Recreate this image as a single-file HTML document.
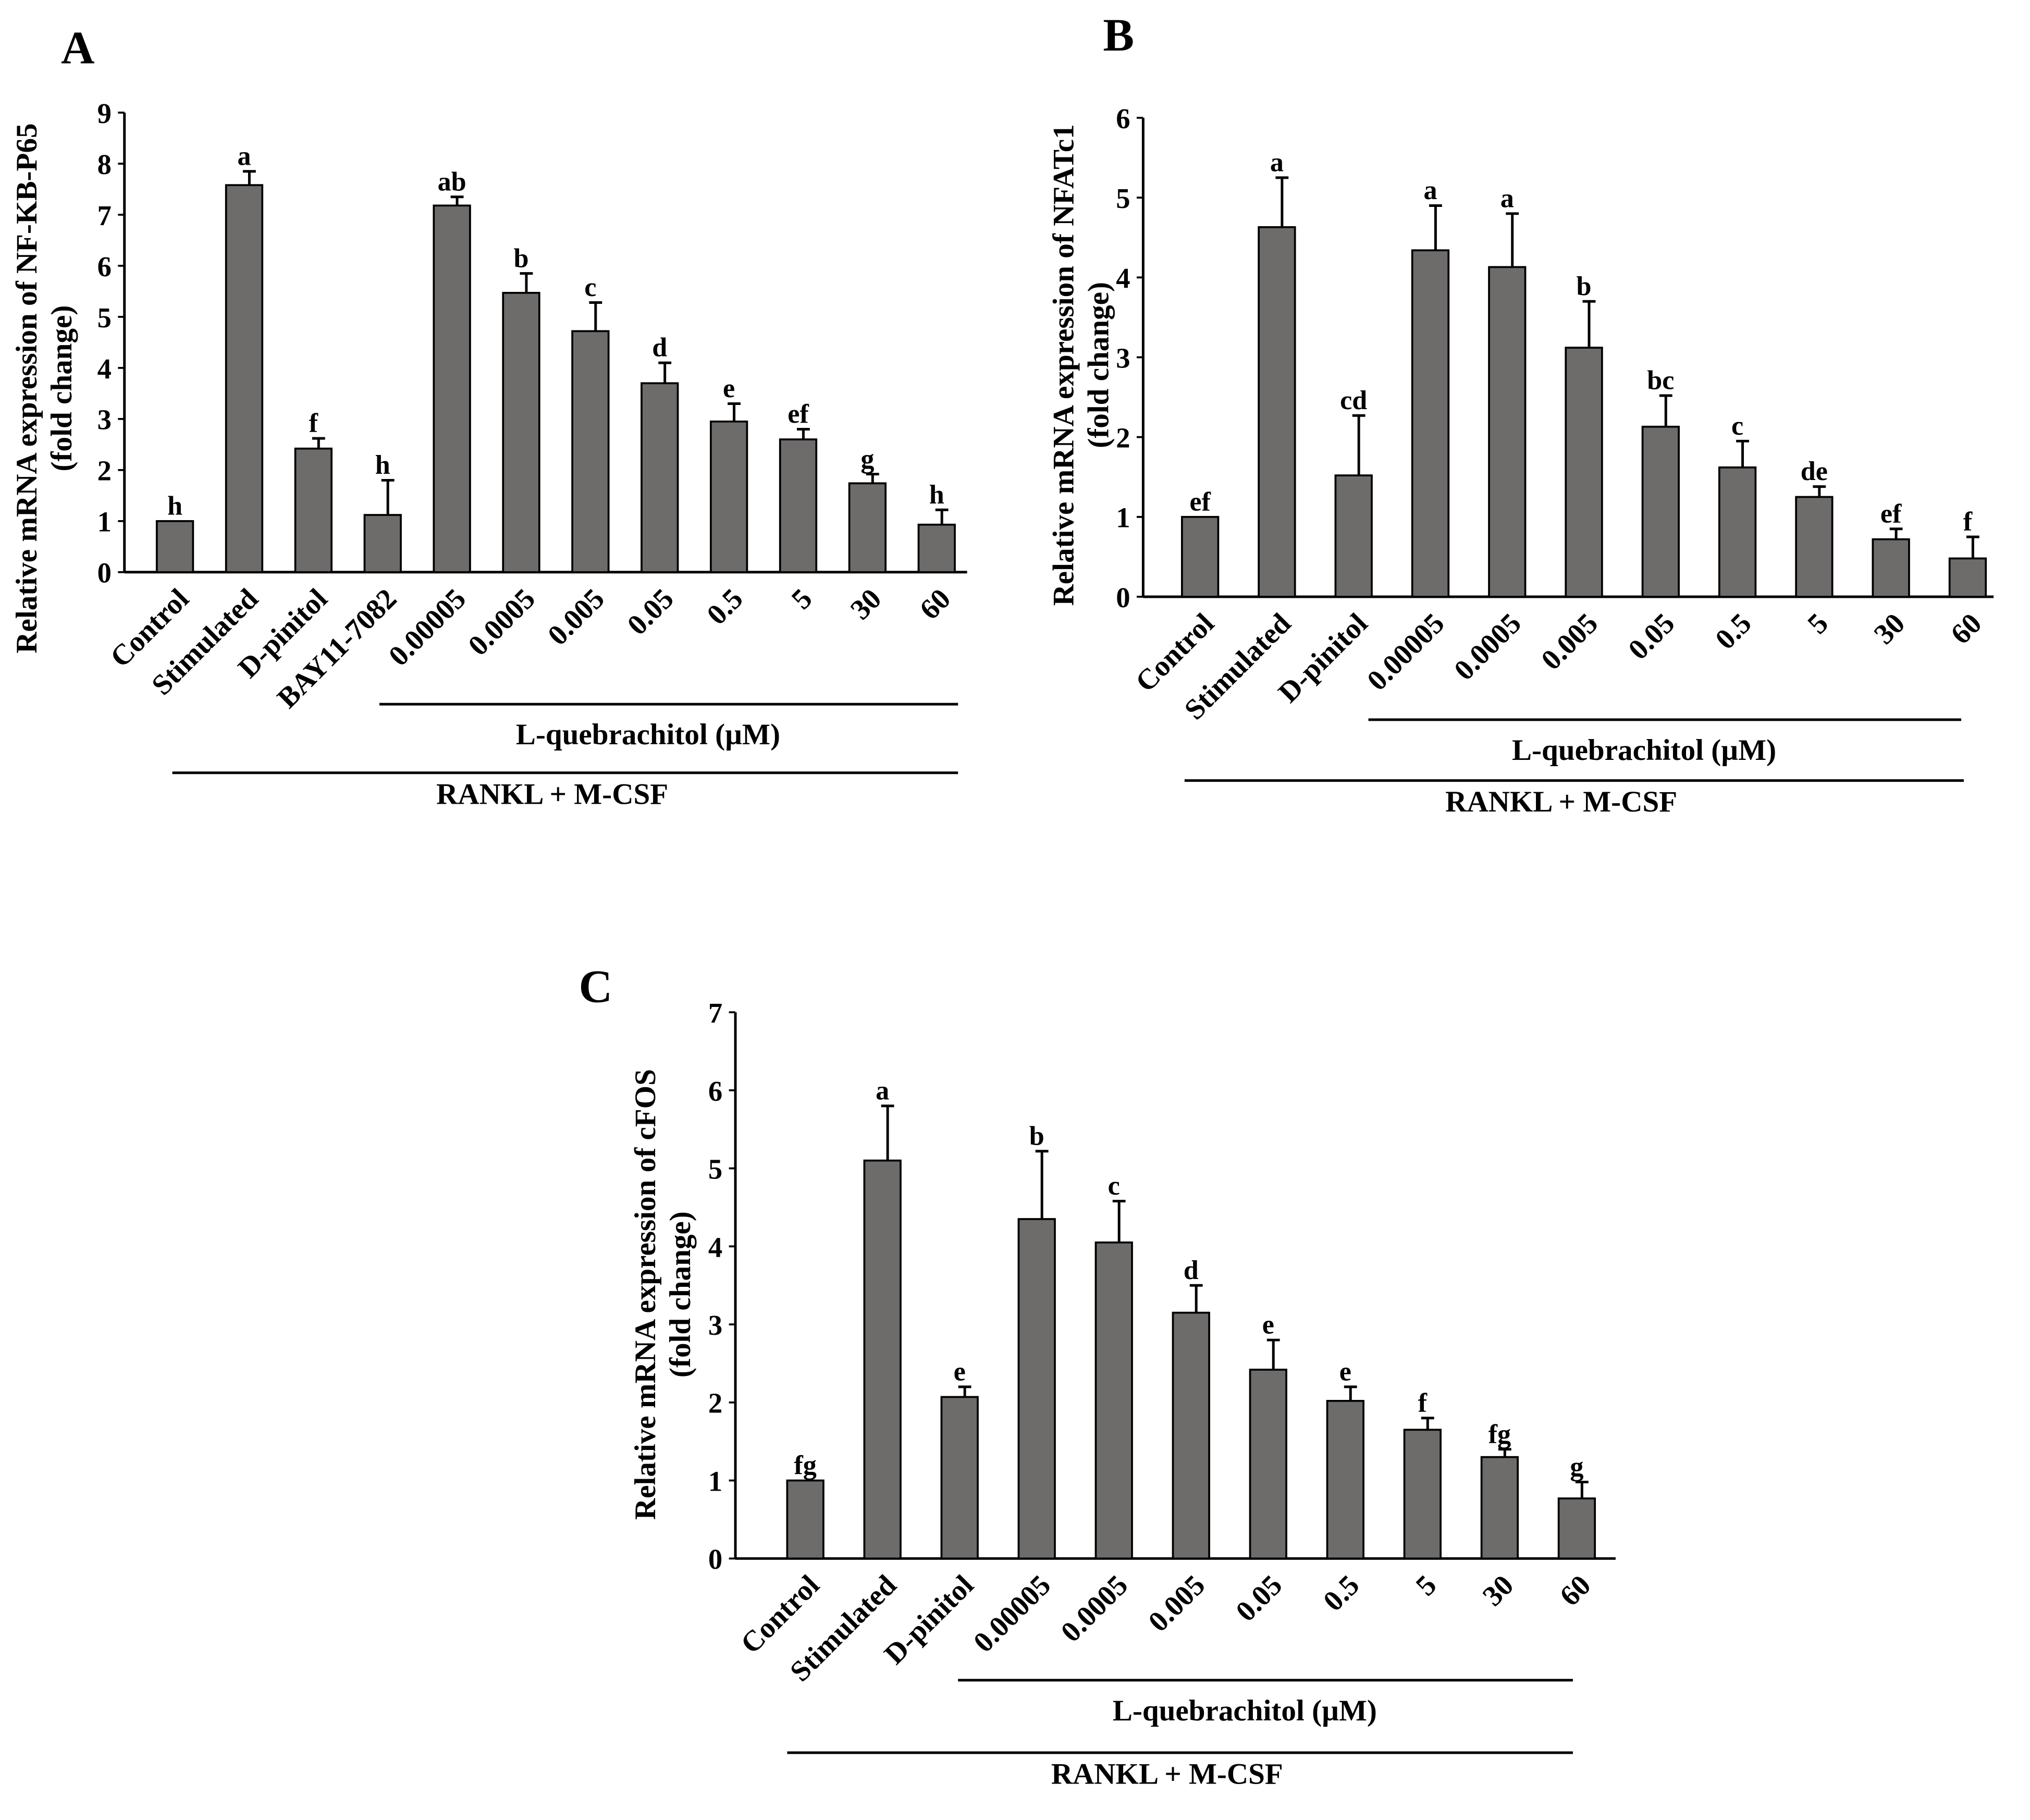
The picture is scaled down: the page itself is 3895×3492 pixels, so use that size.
<!DOCTYPE html>
<html><head><meta charset="utf-8"><style>
html,body{margin:0;padding:0;background:#fff;}
svg{display:block;}
text{font-family:"Liberation Serif",serif;font-weight:bold;fill:#000;}
</style></head><body>
<svg id="fig" xmlns="http://www.w3.org/2000/svg" width="3895" height="3492" viewBox="0 0 1568 1406">
<rect width="1568" height="1406" fill="#fff"/>
</svg>
<script>
const catsA=["Control","Stimulated","D-pinitol","BAY11-7082","0.00005","0.0005","0.005","0.05","0.5","5","30","60"];
const valsA=[1.0,7.58,2.42,1.12,7.18,5.47,4.72,3.70,2.95,2.60,1.74,0.93];
const errA=[0,0.27,0.2,0.68,0.17,0.38,0.56,0.4,0.35,0.2,0.18,0.29];
const sigA=["h","a","f","h","ab","b","c","d","e","ef","g","h"];
const ticksA=[0,1,2,3,4,5,6,7,8,9];

const catsB=["Control","Stimulated","D-pinitol","0.00005","0.0005","0.005","0.05","0.5","5","30","60"];
const valsB=[1.0,4.63,1.52,4.34,4.13,3.12,2.13,1.62,1.25,0.72,0.48];
const errB=[0,0.62,0.75,0.56,0.67,0.58,0.39,0.33,0.13,0.13,0.27];
const sigB=["ef","a","cd","a","a","b","bc","c","de","ef","f"];
const ticksB=[0,1,2,3,4,5,6];

const catsC=["Control","Stimulated","D-pinitol","0.00005","0.0005","0.005","0.05","0.5","5","30","60"];
const valsC=[1.0,5.1,2.07,4.35,4.05,3.15,2.42,2.02,1.65,1.3,0.77];
const errC=[0,0.7,0.13,0.87,0.53,0.35,0.38,0.18,0.15,0.1,0.21];
const sigC=["fg","a","e","b","c","d","e","e","f","fg","g"];
const ticksC=[0,1,2,3,4,5,6,7];

const NS="http://www.w3.org/2000/svg";
const svg=document.getElementById('fig');
function mk(tag,attrs,parent,txt){const e=document.createElementNS(NS,tag);for(const k in attrs)e.setAttribute(k,attrs[k]);if(txt!==undefined)e.textContent=txt;(parent||svg).appendChild(e);return e;}

function panel(cfg,cats,vals,errs,sigs,ticks){
  const g=mk('g',{});
  
  
  const ax=cfg.ax,y0=cfg.y0,yt=cfg.yTop,max=ticks[ticks.length-1];
  const y=v=>y0-(v/max)*(y0-yt);
  const xc=i=>cfg.x0+i*cfg.step;
  const bw=28;
  const ya=mk('line',{x1:ax,y1:yt,x2:ax,y2:y0,stroke:'#000','stroke-width':2},g);
  
  
  const xa=mk('line',{x1:ax,y1:y0,x2:cfg.axEnd,y2:y0,stroke:'#000','stroke-width':2},g);
  
  
  ticks.forEach(t=>{
    mk('line',{x1:ax-5,y1:y(t),x2:ax,y2:y(t),stroke:'#000','stroke-width':1.5},g);
    const tl=mk('text',{x:ax-10,y:y(t)+8,'text-anchor':'end','font-size':22},g,String(t));
    
    
  });
  cats.forEach((c,i)=>{
    const cx=xc(i),v=vals[i],e=errs[i];
    const b=mk('rect',{x:cx-bw/2,y:y(v),width:bw,height:y0-y(v),fill:'#6e6b6b',stroke:'#000','stroke-width':1.5},g);
    
    
    if(e>0){
      const eb=mk('path',{d:`M${cx+4},${y(v)} V${y(v+e)} M${cx-1},${y(v+e)} H${cx+9}`,stroke:'#000','stroke-width':2,fill:'none'},g);
      
      
    }
    const s=mk('text',{x:cx,y:y(v+e)-5,'text-anchor':'middle','font-size':21},g,sigs[i]);
    
    
    const lx=cx+12,ly=y0+22;
    const cl=mk('text',{x:lx,y:ly,'text-anchor':'end','font-size':22.5,transform:`rotate(-45 ${lx} ${ly})`},g,c);
    
    
  });
  const tx=cfg.titleX,ty=cfg.titleY;
  const t1=mk('text',{x:tx,y:ty,'text-anchor':'middle','font-size':23,transform:`rotate(-90 ${tx} ${ty})`},g,cfg.title);
  
  
  const t2=mk('text',{x:tx+27,y:ty,'text-anchor':'middle','font-size':23,transform:`rotate(-90 ${tx+27} ${ty})`},g,'(fold change)');
  
  
  const l1=mk('line',{x1:cfg.qx1,y1:cfg.qy,x2:cfg.qx2,y2:cfg.qy,stroke:'#000','stroke-width':2},g);
  
  
  const q=mk('text',{x:(cfg.qx1+cfg.qx2)/2-16,y:cfg.qy+31,'text-anchor':'middle','font-size':23},g,'L-quebrachitol (\u00b5M)');
  
  
  const l2=mk('line',{x1:cfg.rx1,y1:cfg.ry,x2:cfg.rx2,y2:cfg.ry,stroke:'#000','stroke-width':2},g);
  
  
  const r=mk('text',{x:(cfg.rx1+cfg.rx2)/2-10,y:cfg.ry+24,'text-anchor':'middle','font-size':23},g,'RANKL + M-CSF');
  
  
  const L=mk('text',{x:cfg.lx,y:cfg.ly,'text-anchor':'middle','font-size':36},g,cfg.letter);
  
  
}

panel({name:'panel-a',ax:96,y0:442,yTop:87,x0:135,step:53.5,axEnd:747,title:'Relative mRNA expression of NF-KB-P65',titleX:28,titleY:300,
  qx1:293,qx2:740,qy:544,rx1:133,rx2:740,ry:597,letter:'A',lx:60,ly:49},catsA,valsA,errA,sigA,ticksA);
panel({name:'panel-b',ax:883,y0:461,yTop:91,x0:927,step:59.3,axEnd:1540,title:'Relative mRNA expression of NFATc1',titleX:829,titleY:282,
  qx1:1057,qx2:1515,qy:556,rx1:915,rx2:1517,ry:603,letter:'B',lx:864,ly:39},catsB,valsB,errB,sigB,ticksB);
panel({name:'panel-c',ax:568,y0:1204,yTop:782,x0:622,step:59.6,axEnd:1248,title:'Relative mRNA expression of cFOS',titleX:506,titleY:1000,
  qx1:740,qx2:1215,qy:1298,rx1:608,rx2:1215,ry:1354,letter:'C',lx:460,ly:774},catsC,valsC,errC,sigC,ticksC);
</script>
</body></html>
